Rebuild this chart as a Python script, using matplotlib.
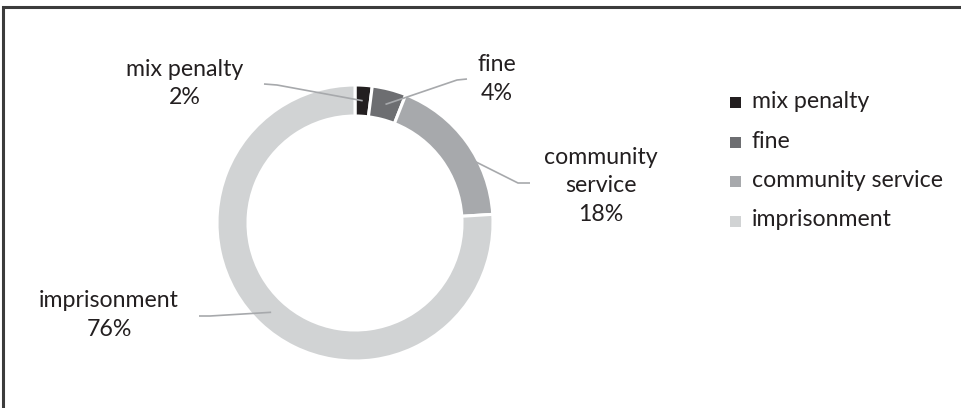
import matplotlib
matplotlib.use("Agg")
import matplotlib.pyplot as plt
import numpy as np

categories = ["mix penalty", "fine", "community service", "imprisonment"]
values = [2, 4, 18, 76]
pct_labels = ["2%", "4%", "18%", "76%"]
colors = ["#231f20", "#6d6e71", "#a7a9ac", "#d1d3d4"]

W, H = 961, 408
plt.rcParams['font.family'] = ['Lato', 'DejaVu Sans']
fig = plt.figure(figsize=(W / 100, H / 100), dpi=100)
ax = fig.add_axes([0, 0, 1, 1])

cx, cy = 355, H - 223
R, width = 138, 31
wedges, _ = ax.pie(values, colors=colors, startangle=90, counterclock=False,
                   center=(cx, cy), radius=R,
                   wedgeprops=dict(width=width, edgecolor="white", linewidth=2.2))
ax.set_xlim(0, W)
ax.set_ylim(0, H)
ax.set_aspect("equal")
ax.axis("off")

# labels: (text center x, first baseline y, line start, elbow)
label_layout = [
    dict(tx=185, ty=76, start=(264, 84), elbow=(277, 85)),
    dict(tx=497, ty=71, start=(467, 79), elbow=(457, 80)),
    dict(tx=601, ty=164, start=(530, 183), elbow=(518, 183)),
    dict(tx=109, ty=307, start=(199, 316), elbow=(210, 316)),
]
fs = 16.7
lh = 28.5
cum = np.cumsum([0] + values[:-1])
total = sum(values)
rmid = R - width / 2
for i, (cat, v) in enumerate(zip(categories, values)):
    ang = np.deg2rad(90 - (cum[i] + v / 2) / total * 360)
    axp, ayp = cx + rmid * np.cos(ang), cy + rmid * np.sin(ang)
    L = label_layout[i]
    xs = [L["start"][0], L["elbow"][0], axp]
    ys = [H - L["start"][1], H - L["elbow"][1], ayp]
    ax.plot(xs, ys, color="#a7a9ac", lw=1.2, solid_capstyle="butt")
    if cat == "community service":
        lines = ["community", "service", pct_labels[i]]
    else:
        lines = [cat, pct_labels[i]]
    for j, ln in enumerate(lines):
        ax.text(L["tx"], H - (L["ty"] + j * lh), ln, ha="center", va="baseline",
                fontsize=fs, color="#231f20")

# legend
leg_x_sq, leg_x_txt = 730, 752
leg_base = [108, 147.5, 187, 226.5]
sq = 11
for i, cat in enumerate(categories):
    ax.add_patch(plt.Rectangle((leg_x_sq, H - leg_base[i]), sq, sq,
                               facecolor=colors[i], edgecolor="none"))
    ax.text(leg_x_txt, H - leg_base[i], cat, ha="left", va="baseline",
            fontsize=fs, color="#231f20")

# frame (top and left edges visible)
ax.plot([2.5, 2.5, W], [0, H - 6.5, H - 6.5], color="#3c3c3c", lw=2.2,
        solid_joinstyle="miter")

fig.savefig("out.png", dpi=100)
